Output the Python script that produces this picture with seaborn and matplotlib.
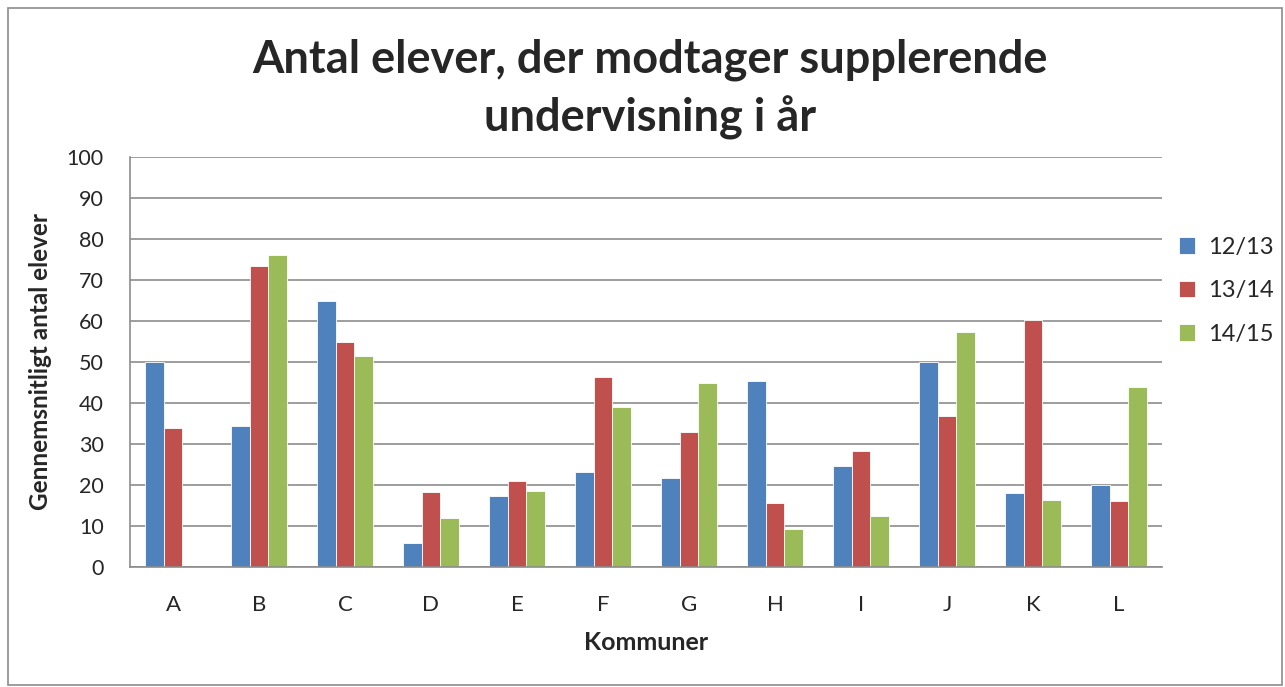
import numpy as np
import pandas as pd
import seaborn as sns
import matplotlib.pyplot as plt
from matplotlib.patches import Rectangle
from matplotlib.ticker import FixedLocator

kommuner = ["A", "B", "C", "D", "E", "F", "G", "H", "I", "J", "K", "L"]
aar = ["12/13", "13/14", "14/15"]
v_12_13 = [50.0, 34.3, 64.9, 5.8, 17.3, 23.2, 21.8, 45.4, 24.6, 49.9, 18.1, 20.1]
v_13_14 = [33.8, 73.5, 54.9, 18.4, 20.9, 46.4, 32.9, 15.6, 28.4, 36.8, 60.2, 16.1]
v_14_15 = [np.nan, 76.1, 51.4, 12.0, 18.6, 39.1, 44.8, 9.2, 12.4, 57.4, 16.4, 43.9]
farver = ["#4F81BD", "#C0504D", "#9BBB59"]

df = pd.DataFrame({
    "Kommune": kommuner * 3,
    "Aar": [a for a in aar for _ in kommuner],
    "Elever": v_12_13 + v_13_14 + v_14_15,
})

sns.set_style("white")
plt.rcParams["font.family"] = ["Lato", "DejaVu Sans"]

fig = plt.figure(figsize=(12.85, 6.87), dpi=100)
ax = fig.add_axes([130 / 1285, 1 - 567 / 687, (1162 - 130) / 1285, (567 - 157) / 687])

sns.barplot(data=df, x="Kommune", y="Elever", hue="Aar", palette=farver,
            width=0.66, saturation=1, edgecolor="white", linewidth=0.6, ax=ax)

ax.set_ylim(0, 100)
ax.set_xlim(-0.5, 11.5)
ax.set_yticks(range(0, 101, 10))
ax.yaxis.grid(True, color="#8c8c8c", linewidth=1.2)
ax.set_axisbelow(True)
for s in ["top", "right"]:
    ax.spines[s].set_visible(False)
for s in ["left", "bottom"]:
    ax.spines[s].set_color("#8c8c8c")
    ax.spines[s].set_linewidth(1.2)

ax.tick_params(axis="y", length=7, width=1.2, color="#8c8c8c", labelsize=15.5, pad=12)
ax.tick_params(axis="x", which="major", length=0, labelsize=16, pad=20)
ax.xaxis.set_minor_locator(FixedLocator(np.arange(-0.5, 12, 1)))
ax.tick_params(axis="x", which="minor", length=7, width=1.2, color="#8c8c8c")

ax.set_xlabel("Kommuner", fontsize=18, fontweight="bold")
ax.set_ylabel("Gennemsnitligt antal elever", fontsize=17.5, fontweight="bold")
ax.xaxis.set_label_coords(0.5, -0.156)
ax.yaxis.set_label_coords(-0.076, 0.5)

ax.legend(loc="upper left", bbox_to_anchor=(1.016, 0.805), frameon=False,
          fontsize=17, handlelength=0.7, handleheight=0.7, labelspacing=0.95,
          handletextpad=0.55, borderpad=0, borderaxespad=0)

fig.text(650 / 1285, 1 - 60 / 687, "Antal elever, der modtager supplerende",
         ha="center", va="center", fontsize=32.5, fontweight="bold")
fig.text(650 / 1285, 1 - 118 / 687, "undervisning i år",
         ha="center", va="center", fontsize=32.5, fontweight="bold")

fig.patches.append(Rectangle((8 / 1285, 2 / 687), 1274 / 1285, 677 / 687,
                             transform=fig.transFigure, fill=False,
                             edgecolor="#8c8c8c", linewidth=1.2))

fig.savefig("out.png", dpi=100, facecolor="white")
